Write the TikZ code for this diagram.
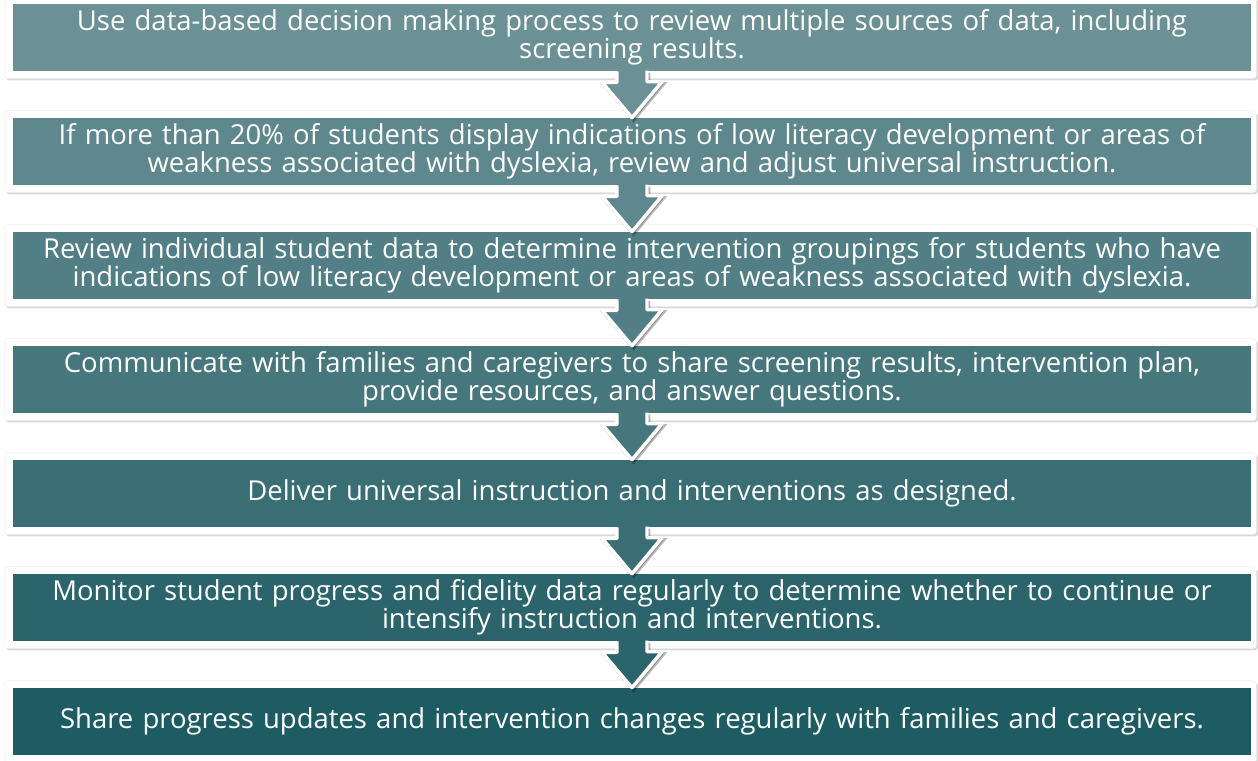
\documentclass[tikz,border=0pt]{standalone}
\usepackage{fontspec}
\setmainfont{Open Sans}
\usetikzlibrary{shadows,backgrounds}

\definecolor{stepA}{RGB}{107,145,150}
\definecolor{stepB}{RGB}{94,136,141}
\definecolor{stepC}{RGB}{81,127,133}
\definecolor{stepD}{RGB}{69,119,124}
\definecolor{stepE}{RGB}{56,110,116}
\definecolor{stepF}{RGB}{43,101,107}
\definecolor{stepG}{RGB}{30,92,99}

\tikzset{
  stepbox/.style={fill=#1, text=white, minimum width=928.5pt, minimum height=50.25pt,
    inner sep=0pt, text width=925pt, align=center, font=\fontsize{20.6}{21}\selectfont},
  framebox/.style={fill=white, draw=black!6, rounded corners=2pt,
    drop shadow={shadow xshift=1.2pt, shadow yshift=-1.5pt, opacity=0.3}},
  chevron/.style={draw=white, line width=2.6pt, line join=round, fill=#1,
    preaction={draw=black, fill=black, opacity=0.28, line width=2.6pt,
      transform canvas={xshift=1.2pt, yshift=-1.6pt}}},
}

\begin{document}
\begin{tikzpicture}[x=0.75pt, y=-0.75pt]
  \useasboundingbox (0,0) rectangle (1258,761);
  % steps
  \node[stepbox=stepA] (s1) at (632,37.5) {Use data-based decision making process to review multiple sources of data, including\\ screening results.};
  \node[stepbox=stepB] (s2) at (632,151.5) {If more than 20\% of students display indications of low literacy development or areas of\\ weakness associated with dyslexia, review and adjust universal instruction.};
  \node[stepbox=stepC] (s3) at (632,265.5) {Review individual student data to determine intervention groupings for students who have\\ indications of low literacy development or areas of weakness associated with dyslexia.};
  \node[stepbox=stepD] (s4) at (632,379.5) {Communicate with families and caregivers to share screening results, intervention plan,\\ provide resources, and answer questions.};
  \node[stepbox=stepE] (s5) at (632,493.5) {Deliver universal instruction and interventions as designed.};
  \node[stepbox=stepF] (s6) at (632,607.5) {Monitor student progress and fidelity data regularly to determine whether to continue or\\ intensify instruction and interventions.};
  \node[stepbox=stepG] (s7) at (632,721.5) {Share progress updates and intervention changes regularly with families and caregivers.};
  % white frames
  \begin{scope}[on background layer]
    \draw[framebox] ([shift={(-8,-7)}]s1.north west) rectangle ([shift={(5,7)}]s1.south east);
    \draw[framebox] ([shift={(-8,-7)}]s2.north west) rectangle ([shift={(5,7)}]s2.south east);
    \draw[framebox] ([shift={(-8,-7)}]s3.north west) rectangle ([shift={(5,7)}]s3.south east);
    \draw[framebox] ([shift={(-8,-7)}]s4.north west) rectangle ([shift={(5,7)}]s4.south east);
    \draw[framebox] ([shift={(-8,-7)}]s5.north west) rectangle ([shift={(5,7)}]s5.south east);
    \draw[framebox] ([shift={(-8,-7)}]s6.north west) rectangle ([shift={(5,7)}]s6.south east);
    \draw[framebox] ([shift={(-8,-7)}]s7.north west) rectangle ([shift={(5,7)}]s7.south east);
  \end{scope}
  % arrows
  \draw[chevron=stepA] ([shift={(-15,0)}]s1.south) -- ++(0,11) -- ++(-15,0) -- (s2.north) -- ++(30,-36) -- ++(-15,0) -- ++(0,-11);
  \draw[chevron=stepB] ([shift={(-15,0)}]s2.south) -- ++(0,11) -- ++(-15,0) -- (s3.north) -- ++(30,-36) -- ++(-15,0) -- ++(0,-11);
  \draw[chevron=stepC] ([shift={(-15,0)}]s3.south) -- ++(0,11) -- ++(-15,0) -- (s4.north) -- ++(30,-36) -- ++(-15,0) -- ++(0,-11);
  \draw[chevron=stepD] ([shift={(-15,0)}]s4.south) -- ++(0,11) -- ++(-15,0) -- (s5.north) -- ++(30,-36) -- ++(-15,0) -- ++(0,-11);
  \draw[chevron=stepE] ([shift={(-15,0)}]s5.south) -- ++(0,11) -- ++(-15,0) -- (s6.north) -- ++(30,-36) -- ++(-15,0) -- ++(0,-11);
  \draw[chevron=stepF] ([shift={(-15,0)}]s6.south) -- ++(0,11) -- ++(-15,0) -- (s7.north) -- ++(30,-36) -- ++(-15,0) -- ++(0,-11);
\end{tikzpicture}
\end{document}
